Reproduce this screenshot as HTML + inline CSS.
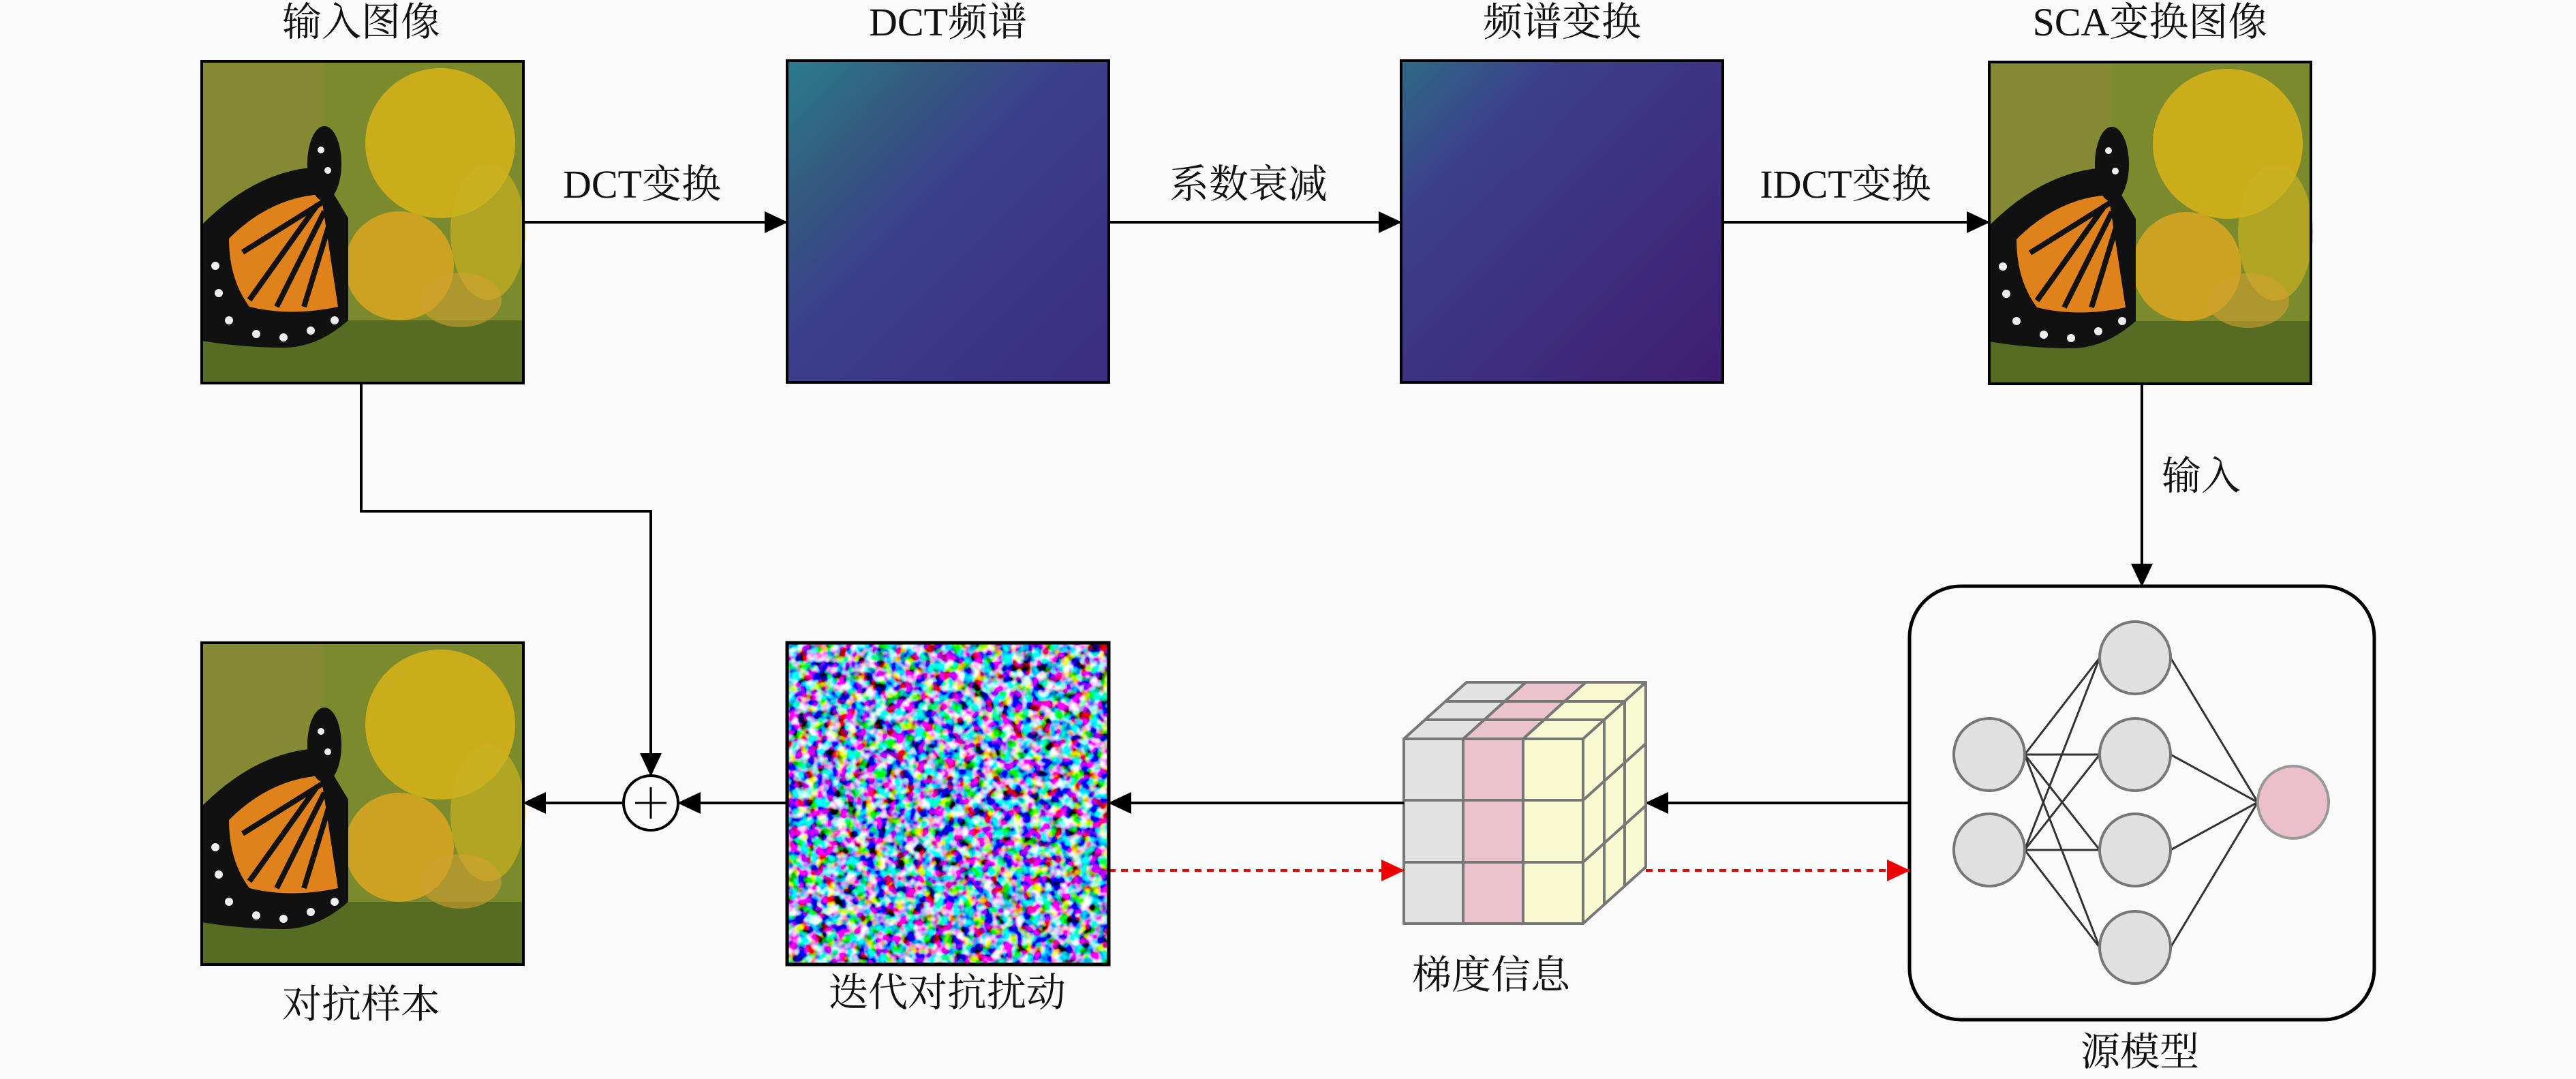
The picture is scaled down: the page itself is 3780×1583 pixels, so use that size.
<!DOCTYPE html>
<html><head><meta charset="utf-8"><style>
html,body{margin:0;padding:0;background:#fafafa;}
svg{display:block;}
text{font-family:"Liberation Serif","Noto Serif CJK SC",serif;font-size:58px;fill:#111;}
</style></head><body>
<svg width="3780" height="1583" viewBox="0 0 3780 1583" xmlns="http://www.w3.org/2000/svg">
<defs>
<marker id="ab" markerWidth="34" markerHeight="32" refX="33" refY="16" orient="auto" markerUnits="userSpaceOnUse" viewBox="0 0 34 32"><path d="M0,0 L34,16 L0,32 z" fill="#000"/></marker>
<marker id="ar" markerWidth="34" markerHeight="32" refX="33" refY="16" orient="auto" markerUnits="userSpaceOnUse" viewBox="0 0 34 32"><path d="M0,0 L34,16 L0,32 z" fill="#e00"/></marker>
<linearGradient id="spec" x1="0" y1="0" x2="1" y2="1">
<stop offset="0" stop-color="#2a7d8c"/><stop offset="0.25" stop-color="#34577f"/><stop offset="0.45" stop-color="#3b3f8c"/><stop offset="1" stop-color="#3b2c80"/></linearGradient>
<linearGradient id="spec2" x1="0" y1="0" x2="1" y2="1">
<stop offset="0" stop-color="#2e6a86"/><stop offset="0.25" stop-color="#3c3f8a"/><stop offset="1" stop-color="#3f1d70"/></linearGradient>
<filter id="noise" x="0" y="0" width="100%" height="100%">
<feTurbulence type="fractalNoise" baseFrequency="0.07" numOctaves="2" seed="4"/>
<feComponentTransfer><feFuncR type="linear" slope="4" intercept="-1.7"/><feFuncG type="linear" slope="4" intercept="-1.6"/><feFuncB type="linear" slope="4" intercept="-1.3"/><feFuncA type="linear" slope="0" intercept="1"/></feComponentTransfer>
</filter>
<g id="bfly">
<rect x="0" y="0" width="472" height="472" fill="#7a8a2c"/>
<rect x="0" y="0" width="180" height="240" fill="#8a8a3a" opacity="0.6"/>
<rect x="0" y="380" width="472" height="92" fill="#566c22"/>
<ellipse cx="350" cy="120" rx="110" ry="110" fill="#d9b31a" opacity="0.85"/>
<ellipse cx="290" cy="300" rx="80" ry="80" fill="#e0a820" opacity="0.8"/>
<ellipse cx="420" cy="250" rx="55" ry="100" fill="#c9b020" opacity="0.7"/>
<ellipse cx="380" cy="350" rx="60" ry="40" fill="#d0a030" opacity="0.6"/>
<path d="M0,240 Q80,160 170,155 L215,230 L215,380 Q170,420 120,420 Q60,420 0,410 z" fill="#111"/>
<path d="M40,260 Q100,200 175,195 L200,360 Q130,375 70,360 Q40,320 40,260 z" fill="#e0821c"/>
<path d="M60,280 L180,205 M70,350 L170,210 M110,360 L180,220 M150,360 L190,230" stroke="#111" stroke-width="8" fill="none"/>
<ellipse cx="180" cy="150" rx="25" ry="55" fill="#111"/>
<g fill="#eee"><circle cx="20" cy="300" r="6"/><circle cx="25" cy="340" r="6"/><circle cx="40" cy="380" r="6"/><circle cx="80" cy="400" r="6"/><circle cx="120" cy="405" r="6"/><circle cx="160" cy="395" r="6"/><circle cx="195" cy="380" r="6"/><circle cx="175" cy="130" r="5"/><circle cx="185" cy="160" r="5"/></g>
</g>
</defs>

<text x="530" y="52" text-anchor="middle">输入图像</text>
<text x="1391" y="52" text-anchor="middle">DCT频谱</text>
<text x="2292" y="52" text-anchor="middle">频谱变换</text>
<text x="3155" y="52" text-anchor="middle">SCA变换图像</text>

<use href="#bfly" x="296" y="90"/>
<rect x="296" y="90" width="472" height="472" fill="none" stroke="#000" stroke-width="4"/>
<rect x="1155" y="89" width="472" height="472" fill="url(#spec)" stroke="#000" stroke-width="4"/>
<rect x="2056" y="89" width="472" height="472" fill="url(#spec2)" stroke="#000" stroke-width="4"/>
<use href="#bfly" x="2919" y="91"/>
<rect x="2919" y="91" width="472" height="472" fill="none" stroke="#000" stroke-width="4"/>

<line x1="768" y1="326" x2="1155" y2="326" stroke="#000" stroke-width="4" marker-end="url(#ab)"/>
<line x1="1627" y1="326" x2="2056" y2="326" stroke="#000" stroke-width="4" marker-end="url(#ab)"/>
<line x1="2528" y1="326" x2="2919" y2="326" stroke="#000" stroke-width="4" marker-end="url(#ab)"/>
<text x="942" y="290" text-anchor="middle">DCT变换</text>
<text x="1832" y="290" text-anchor="middle">系数衰减</text>
<text x="2708" y="290" text-anchor="middle">IDCT变换</text>

<line x1="3143" y1="563" x2="3143" y2="860" stroke="#000" stroke-width="4" marker-end="url(#ab)"/>
<text x="3230" y="718" text-anchor="middle">输入</text>

<rect x="2802" y="860" width="682" height="636" rx="75" fill="none" stroke="#000" stroke-width="5"/>
<g stroke="#333" stroke-width="3">
<line x1="2971" y1="1107" x2="3081" y2="965"/><line x1="2971" y1="1107" x2="3081" y2="1107"/><line x1="2971" y1="1107" x2="3081" y2="1247"/><line x1="2971" y1="1107" x2="3081" y2="1390"/>
<line x1="2971" y1="1247" x2="3081" y2="965"/><line x1="2971" y1="1247" x2="3081" y2="1107"/><line x1="2971" y1="1247" x2="3081" y2="1247"/><line x1="2971" y1="1247" x2="3081" y2="1390"/>
<line x1="3185" y1="965" x2="3313" y2="1177"/><line x1="3185" y1="1107" x2="3313" y2="1177"/><line x1="3185" y1="1247" x2="3313" y2="1177"/><line x1="3185" y1="1390" x2="3313" y2="1177"/>
</g>
<g fill="#e0e0e0" stroke="#777" stroke-width="4">
<ellipse cx="2919" cy="1107" rx="52" ry="53"/><ellipse cx="2919" cy="1247" rx="52" ry="53"/>
<ellipse cx="3133" cy="965" rx="52" ry="53"/><ellipse cx="3133" cy="1107" rx="52" ry="53"/><ellipse cx="3133" cy="1247" rx="52" ry="53"/><ellipse cx="3133" cy="1390" rx="52" ry="53"/>
<ellipse cx="3365" cy="1177" rx="52" ry="53" fill="#ecc0cb" stroke="#999"/>
</g>
<text x="3140" y="1563" text-anchor="middle">源模型</text>

<line x1="2802" y1="1178" x2="2415" y2="1178" stroke="#000" stroke-width="4" marker-end="url(#ab)"/>

<g stroke="#777" stroke-width="4" stroke-linejoin="round">
<polygon points="2060,1084 2147,1084 2239,1001 2152,1001" fill="#e2e2e2"/>
<polygon points="2147,1084 2235,1084 2327,1001 2239,1001" fill="#ebc3cc"/>
<polygon points="2235,1084 2323,1084 2415,1001 2327,1001" fill="#fafad2"/>
<line x1="2091" y1="1056" x2="2354" y2="1056"/><line x1="2121" y1="1029" x2="2384" y2="1029"/>
<polygon points="2323,1084 2415,1001 2415,1272 2323,1355" fill="#fafad2"/>
<line x1="2354" y1="1056" x2="2354" y2="1327"/><line x1="2384" y1="1029" x2="2384" y2="1300"/>
<line x1="2323" y1="1174" x2="2415" y2="1091"/><line x1="2323" y1="1265" x2="2415" y2="1182"/>
<rect x="2060" y="1084" width="87" height="271" fill="#e2e2e2"/>
<rect x="2147" y="1084" width="88" height="271" fill="#ebc3cc"/>
<rect x="2235" y="1084" width="88" height="271" fill="#fafad2"/>
<line x1="2060" y1="1174" x2="2323" y2="1174"/><line x1="2060" y1="1265" x2="2323" y2="1265"/>
</g>
<text x="2188" y="1450" text-anchor="middle">梯度信息</text>

<line x1="1627" y1="1277" x2="2060" y2="1277" stroke="#e00" stroke-width="4" stroke-dasharray="10,8" marker-end="url(#ar)"/>
<line x1="2415" y1="1277" x2="2802" y2="1277" stroke="#e00" stroke-width="4" stroke-dasharray="10,8" marker-end="url(#ar)"/>

<line x1="2060" y1="1178" x2="1627" y2="1178" stroke="#000" stroke-width="4" marker-end="url(#ab)"/>

<rect x="1155" y="943" width="472" height="472" fill="#777" filter="url(#noise)"/>
<rect x="1155" y="943" width="472" height="472" fill="none" stroke="#000" stroke-width="5"/>
<text x="1390" y="1476" text-anchor="middle">迭代对抗扰动</text>

<circle cx="955" cy="1178" r="40" fill="none" stroke="#000" stroke-width="4"/>
<line x1="932" y1="1178" x2="978" y2="1178" stroke="#000" stroke-width="3"/>
<line x1="955" y1="1155" x2="955" y2="1201" stroke="#000" stroke-width="3"/>
<line x1="1155" y1="1178" x2="995" y2="1178" stroke="#000" stroke-width="4" marker-end="url(#ab)"/>
<line x1="915" y1="1178" x2="768" y2="1178" stroke="#000" stroke-width="4" marker-end="url(#ab)"/>
<polyline points="530,562 530,750 955,750 955,1138" fill="none" stroke="#000" stroke-width="4" marker-end="url(#ab)"/>

<use href="#bfly" x="296" y="943"/>
<rect x="296" y="943" width="472" height="472" fill="none" stroke="#000" stroke-width="4"/>
<text x="530" y="1493" text-anchor="middle">对抗样本</text>
</svg>
</body></html>
